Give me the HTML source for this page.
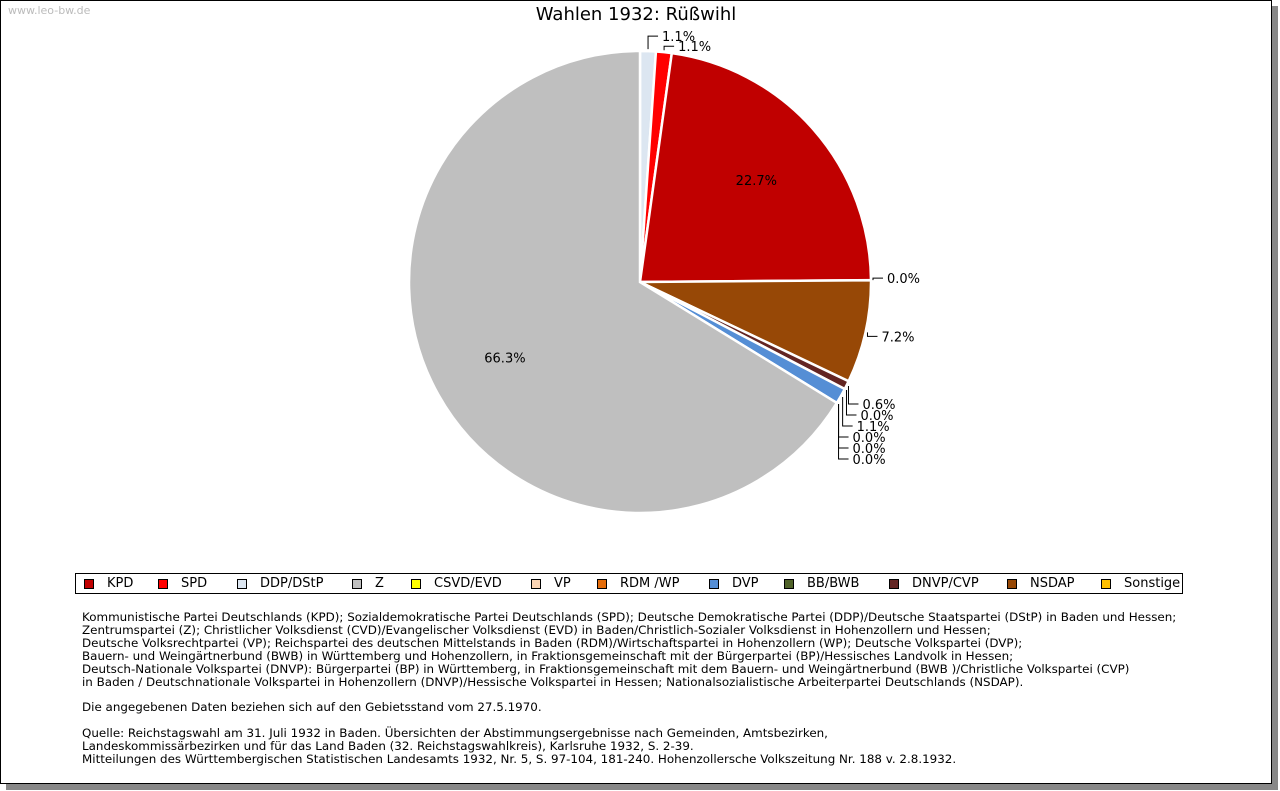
<!DOCTYPE html>
<html><head><meta charset="utf-8"><style>
body{margin:0;background:#fff;width:1280px;height:791px;position:relative;overflow:hidden;font-family:"DejaVu Sans","Liberation Sans",sans-serif;}
#frame{position:absolute;left:0;top:0;width:1272px;height:784px;border:1px solid #000;box-sizing:border-box;box-shadow:6px 6px 0 #888;background:#fff;}
#wm{position:absolute;left:8px;top:4px;font-size:11px;color:#bbb;}
#title{position:absolute;left:0;width:1272px;top:4px;text-align:center;font-size:18px;color:#000;}
#legend{position:absolute;left:75px;top:573px;width:1108px;height:21px;border:1px solid #000;box-sizing:border-box;font-size:13px;}
.li{position:absolute;top:2px;height:16px;line-height:16px;white-space:nowrap;}
.sw{position:absolute;top:3px;width:10px;height:10px;border:1px solid #000;box-sizing:border-box;}
#notes{position:absolute;left:82px;top:611px;font-size:11.9px;line-height:12.9px;color:#000;white-space:pre;}
</style></head><body>
<div id="frame"></div>
<div id="wm">www.leo-bw.de</div>
<div id="title">Wahlen 1932: Rüßwihl</div>
<svg id="pie" width="1280" height="560" style="position:absolute;left:0;top:0"></svg>
<div id="legend"></div>
<div id="notes">Kommunistische Partei Deutschlands (KPD); Sozialdemokratische Partei Deutschlands (SPD); Deutsche Demokratische Partei (DDP)/Deutsche Staatspartei (DStP) in Baden und Hessen;
Zentrumspartei (Z); Christlicher Volksdienst (CVD)/Evangelischer Volksdienst (EVD) in Baden/Christlich-Sozialer Volksdienst in Hohenzollern und Hessen;
Deutsche Volksrechtpartei (VP); Reichspartei des deutschen Mittelstands in Baden (RDM)/Wirtschaftspartei in Hohenzollern (WP); Deutsche Volkspartei (DVP);
Bauern- und Weingärtnerbund (BWB) in Württemberg und Hohenzollern, in Fraktionsgemeinschaft mit der Bürgerpartei (BP)/Hessisches Landvolk in Hessen;
Deutsch-Nationale Volkspartei (DNVP): Bürgerpartei (BP) in Württemberg, in Fraktionsgemeinschaft mit dem Bauern- und Weingärtnerbund (BWB )/Christliche Volkspartei (CVP)
in Baden / Deutschnationale Volkspartei in Hohenzollern (DNVP)/Hessische Volkspartei in Hessen; Nationalsozialistische Arbeiterpartei Deutschlands (NSDAP).

Die angegebenen Daten beziehen sich auf den Gebietsstand vom 27.5.1970.

Quelle: Reichstagswahl am 31. Juli 1932 in Baden. Übersichten der Abstimmungsergebnisse nach Gemeinden, Amtsbezirken,
Landeskommissärbezirken und für das Land Baden (32. Reichstagswahlkreis), Karlsruhe 1932, S. 2-39.
Mitteilungen des Württembergischen Statistischen Landesamts 1932, Nr. 5, S. 97-104, 181-240. Hohenzollersche Volkszeitung Nr. 188 v. 2.8.1932.</div>
<script>
// pie data (clockwise from 12 o'clock)
const sliceParties = ["DDP/DStP","SPD","KPD","Sonstige","NSDAP","DNVP/CVP","BB/BWB","DVP","RDM /WP","VP","CSVD/EVD","Z"];
const sliceValues = [1.1,1.1,22.7,0.0,7.2,0.6,0.0,1.1,0.0,0.0,0.0,66.3];
const sliceLabels = ["1.1%","1.1%","22.7%","0.0%","7.2%","0.6%","0.0%","1.1%","0.0%","0.0%","0.0%","66.3%"];
// legend
const legendParties = ["KPD","SPD","DDP/DStP","Z","CSVD/EVD","VP","RDM /WP","DVP","BB/BWB","DNVP/CVP","NSDAP","Sonstige"];
const legendColors = ["#C00000","#FF0000","#DCE6F1","#BFBFBF","#FFFF00","#FCD5B4","#E46C0A","#558ED5","#4F6228","#632523","#974806","#FFC000"];

const NS="http://www.w3.org/2000/svg";
const svg=document.getElementById('pie');
const cx=640,cy=282,R=231;
const total=sliceValues.reduce((a,b)=>a+b,0);
function pt(a,r){return [cx+r*Math.sin(a),cy-r*Math.cos(a)];}
function colorOf(p){return legendColors[legendParties.indexOf(p)];}
let acc=0;let prevY=-1e9;
sliceValues.forEach((v,i)=>{
  const a0=acc/total*2*Math.PI; acc+=v; const a1=acc/total*2*Math.PI;
  const mid=(a0+a1)/2;
  if(v>0){
    const p0=pt(a0,R),p1=pt(a1,R);
    const large=(a1-a0)>Math.PI?1:0;
    const path=document.createElementNS(NS,'path');
    path.setAttribute('d',`M${cx},${cy}L${p0[0]},${p0[1]}A${R},${R} 0 ${large} 1 ${p1[0]},${p1[1]}Z`);
    path.setAttribute('fill',colorOf(sliceParties[i]));
    path.setAttribute('stroke','#fff');path.setAttribute('stroke-width','2.5');
    
    
    svg.appendChild(path);
  }
  const t=document.createElementNS(NS,'text');
  t.setAttribute('font-size','13');t.setAttribute('font-family','DejaVu Sans, Liberation Sans, sans-serif');
  t.textContent=sliceLabels[i];
  if(v>=10){
    const p=pt(mid,R*0.67);
    t.setAttribute('x',p[0]);t.setAttribute('y',p[1]+5);t.setAttribute('text-anchor','middle');
  } else {
    const an=pt(mid,R+2);
    let ly;
    const deg=mid*180/Math.PI;
    if(deg<45) ly=an[1]-(i===0?13:4);
    else if(deg>110) ly=an[1]+18;
    else if(deg<95) ly=an[1]-2;
    else ly=an[1]+4;
    if(deg>45&&ly<prevY+11) ly=prevY+11;
    prevY=ly;
    const ln=document.createElementNS(NS,'polyline');
    ln.setAttribute('points',`${an[0]},${an[1]} ${an[0]},${ly} ${an[0]+10},${ly}`);
    ln.setAttribute('fill','none');ln.setAttribute('stroke','#000');ln.setAttribute('stroke-width','1');
    
    
    svg.appendChild(ln);
    t.setAttribute('x',an[0]+14);t.setAttribute('y',ly+5);
  }
  
  
  svg.appendChild(t);
});
const lg=document.getElementById('legend');
const lgX=[8,82,161,276,335,455,521,633,708,813,931,1025];
legendParties.forEach((p,i)=>{
  const d=document.createElement('div');d.className='li';d.style.left=lgX[i]+'px';
  
  
  const s=document.createElement('span');s.className='sw';s.style.left='0';s.style.background=legendColors[i];
  const tx=document.createElement('span');tx.style.marginLeft='23px';tx.textContent=p;
  d.appendChild(s);d.appendChild(tx);lg.appendChild(d);
});
</script>
</body></html>
